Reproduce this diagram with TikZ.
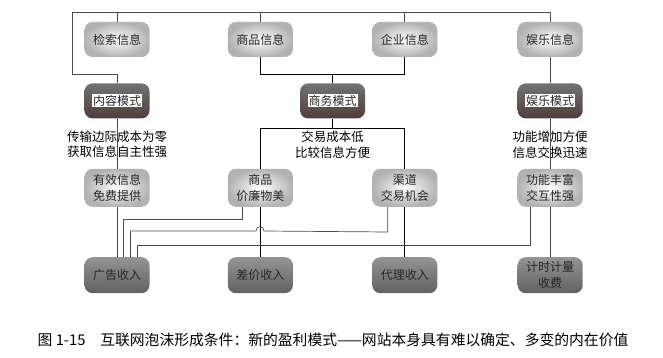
\documentclass[tikz,border=0pt]{standalone}
\usepackage{fontspec}
\setmainfont{Noto Sans CJK SC}
\usetikzlibrary{positioning, calc}
\definecolor{modebot}{RGB}{82,60,60}
\setlength{\fboxsep}{1pt}
\begin{document}
\begin{tikzpicture}[
    x=1pt, y=-1pt,
    node distance=26pt,
    info/.style={rectangle, rounded corners=8pt, minimum width=65pt, minimum height=35pt, inner sep=2pt, align=center, inner color=white, outer color=black!30, text=black!85, font=\fontsize{12}{15.5}\selectfont},
    perk/.style={info, minimum height=38pt},
    mode/.style={info, top color=black!55, bottom color=modebot},
    gain/.style={info, minimum height=36pt, top color=black!42, bottom color=black!62},
    note/.style={align=center, font=\fontsize{12.5}{15.5}\selectfont},
    link/.style={draw=black!70, line width=0.7pt},
    bold/.style={draw=black, line width=1.2pt},
]
\path[use as bounding box, fill=white] (0,0) rectangle (663,358);

% information sources
\node[info] (jiansuo) at (117,39.5) {检索信息};
\node[info, right=78pt of jiansuo] (shangpin) {商品信息};
\node[info, right=79pt of shangpin] (qiye) {企业信息};
\node[info, right=80pt of qiye] (yule) {娱乐信息};

% models
\node[mode, below=of jiansuo] (neirong) {\colorbox{white}{内容模式}};
\coordinate (mid) at ($(shangpin.south)!0.5!(qiye.south)$);
\node[mode, below=of mid] (shangwu) {\colorbox{white}{商务模式}};
\node[mode, below=of yule] (yulems) {\colorbox{white}{娱乐模式}};

\node[note] (t1) at (neirong |- 0,144.5) {传输边际成本为零\\获取信息自主性强};
\node[note] (t2) at (shangwu |- 0,144.5) {交易成本低\\比较信息方便};
\node[note] (t3) at (yulems |- 0,144.5) {功能增加方便\\信息交换迅速};

% benefits
\node[perk, below=50pt of neirong] (youxiao) {有效信息\\免费提供};
\node[perk] (jialian) at (shangpin |- youxiao) {商品\\价廉物美};
\node[perk] (qudao) at (qiye |- youxiao) {渠道\\交易机会};
\node[perk] (gongneng) at (yule |- youxiao) {功能丰富\\交互性强};

% revenues
\node[gain, below=50pt of youxiao] (guanggao) {广告收入};
\node[gain] (chajia) at (jialian |- guanggao) {差价收入};
\node[gain] (daili) at (qudao |- guanggao) {代理收入};
\node[gain] (jishi) at (gongneng |- guanggao) {计时计量\\收费};

\node[font=\fontsize{14.8}{16}\selectfont] (caption) at (333,340) {图 1-15\quad 互联网泡沫形成条件：新的盈利模式——网站本身具有难以确定、多变的内在价值};

% top frame
\coordinate (corner) at (72,12);
\draw[link] (neirong.north) -- ++(0,-9) -| (corner) -| (yule.north);
\draw[link] (jiansuo.north) -- (jiansuo.north |- corner);
\draw[link] (shangpin.north) -- (shangpin.north |- corner);
\draw[link] (qiye.north) -- (qiye.north |- corner);

% business model
\draw[bold] (shangpin.south) -- ++(0,17) -| (qiye.south);
\draw[bold] (shangwu.north) -- ++(0,-9);
\draw[bold] (shangwu.south) -- ++(0,10);
\draw[bold] (jialian.north) -- ++(0,-40) -| (qudao.north);

\draw[link] (yule.south) -- (yulems.north);
\draw[link] (neirong.south) -- (youxiao.north);
\draw[link] (yulems.south) -- (gongneng.north);

% revenue links
\draw[link] (youxiao.south) -- (guanggao.north);
\draw[bold] (jialian.south) -- (chajia.north);
\draw[bold] (qudao.south) -- (daili.north);
\draw[link] (gongneng.south) -- (jishi.north);
\draw[link] ([xshift=-18pt]jialian.south) -- ++(0,12) -| ([xshift=6.5pt]guanggao.north);
\draw[link] ([xshift=-17pt]qudao.south) -- ++(0,25) -- (264,231) .. controls (264,225) and (256,225) .. (256,231) -| ([xshift=13.5pt]guanggao.north);
\draw[link] ([xshift=-20pt]gongneng.south) -- ++(0,38) -| ([xshift=20.5pt]guanggao.north);
\end{tikzpicture}
\end{document}
